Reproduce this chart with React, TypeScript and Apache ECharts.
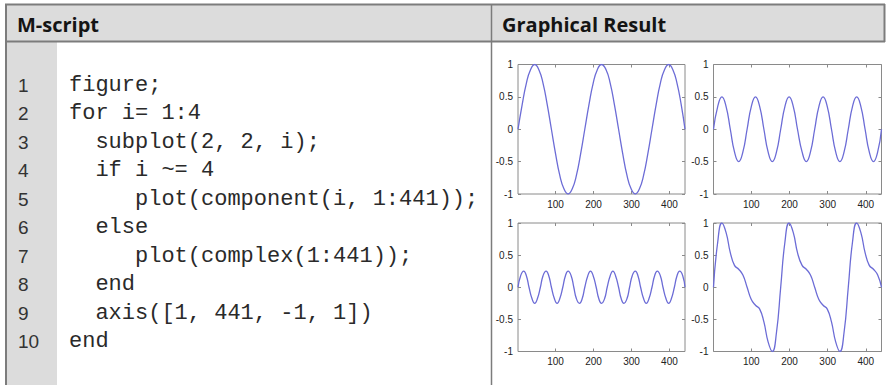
import React, { useEffect, useRef } from "react";
import * as echarts from "echarts";

// ---- texts ----
const leftTitle = "M-script";
const rightTitle = "Graphical Result";
const lineNumbers = ["1", "2", "3", "4", "5", "6", "7", "8", "9", "10"];
const codeLines = [
  "figure;",
  "for i= 1:4",
  "  subplot(2, 2, i);",
  "  if i ~= 4",
  "     plot(component(i, 1:441));",
  "  else",
  "     plot(complex(1:441));",
  "  end",
  "  axis([1, 441, -1, 1])",
  "end",
];

// ---- axes ----
const xRange = [1, 441];
const yRange = [-1, 1];
const xTickValues = [100, 200, 300, 400];
const yTickStep = 0.5;

// ---- data (sample index, value) ----
const samplesA = [1, 12, 23, 34, 45, 56, 67, 78, 89, 100, 111, 122, 133, 144, 155, 166, 177, 188, 199, 210, 221, 233, 244, 255, 266, 277, 288, 299, 310, 321, 332, 343, 354, 365, 376, 387, 398, 409, 420, 431, 441];
const component1 = [0, 0.38, 0.71, 0.92, 1, 0.92, 0.71, 0.38, 0, -0.38, -0.71, -0.92, -1, -0.92, -0.71, -0.38, 0, 0.38, 0.71, 0.92, 1, 0.92, 0.71, 0.38, 0, -0.38, -0.71, -0.92, -1, -0.92, -0.71, -0.38, 0, 0.38, 0.71, 0.92, 1, 0.92, 0.71, 0.38, 0];
const component2 = [0, 0.35, 0.5, 0.35, 0, -0.35, -0.5, -0.35, 0, 0.35, 0.5, 0.35, 0, -0.35, -0.5, -0.35, 0, 0.35, 0.5, 0.35, 0, -0.35, -0.5, -0.35, 0, 0.35, 0.5, 0.35, 0, -0.35, -0.5, -0.35, 0, 0.35, 0.5, 0.35, 0, -0.35, -0.5, -0.35, 0];
const samplesB = [1, 8, 16, 23, 30, 38, 45, 52, 60, 67, 75, 82, 89, 97, 104, 111, 119, 126, 133, 141, 148, 155, 163, 170, 177, 185, 192, 199, 207, 214, 221, 229, 236, 244, 251, 258, 266, 273, 280, 288, 295, 302, 310, 317, 324, 332, 339, 346, 354, 361, 368, 376, 383, 391, 398, 405, 413, 420, 427, 435, 441];
const component3 = [0, 0.18, 0.25, 0.18, 0, -0.18, -0.25, -0.18, 0, 0.18, 0.25, 0.18, 0, -0.18, -0.25, -0.18, 0, 0.18, 0.25, 0.18, 0, -0.18, -0.25, -0.18, 0, 0.18, 0.25, 0.18, 0, -0.18, -0.25, -0.18, 0, 0.18, 0.25, 0.18, 0, -0.18, -0.25, -0.18, 0, 0.18, 0.25, 0.18, 0, -0.18, -0.25, -0.18, 0, 0.18, 0.25, 0.18, 0, -0.18, -0.25, -0.18, 0, 0.18, 0.25, 0.18, 0];
const complexSignal = [0, 0.7, 1, 0.85, 0.54, 0.34, 0.28, 0.19, 0, -0.19, -0.28, -0.34, -0.54, -0.85, -1, -0.7, 0, 0.7, 1, 0.85, 0.54, 0.34, 0.28, 0.19, 0, -0.19, -0.28, -0.34, -0.54, -0.85, -1, -0.7, 0, 0.7, 1, 0.85, 0.54, 0.34, 0.28, 0.19, 0];

const W = 886;
const H = 385;

function pairs(xs: number[], ys: number[]) {
  return xs.map((x, i) => [x, ys[i]]);
}

export default function App() {
  const ref = useRef<HTMLDivElement>(null);

  useEffect(() => {
    document.body.style.margin = "0";
    const chart = echarts.init(ref.current!, null, { renderer: "svg", width: W, height: H });

    const grids = [
      { left: 518, top: 64.5, width: 167, height: 129.5 },
      { left: 713.5, top: 64.5, width: 168, height: 129.5 },
      { left: 518, top: 223, width: 167, height: 128.5 },
      { left: 713.5, top: 223, width: 168, height: 128.5 },
    ];
    const seriesData = [
      pairs(samplesA, component1),
      pairs(samplesA, component2),
      pairs(samplesB, component3),
      pairs(samplesA, complexSignal),
    ];

    const boxColor = "#8a8a8a";
    const labelStyle = { fontSize: 10, color: "#222", fontFamily: "Liberation Sans" };
    const xAxes: any[] = [];
    const yAxes: any[] = [];
    grids.forEach((_, gi) => {
      ["bottom", "top"].forEach((pos) => {
        xAxes.push({
          gridIndex: gi,
          type: "value",
          position: pos,
          min: xRange[0],
          max: xRange[1],
          axisLine: { show: false, onZero: false },
          axisTick: { show: true, inside: true, length: 3, lineStyle: { color: boxColor }, customValues: xTickValues },
          axisLabel: { show: pos === "bottom", margin: 5, customValues: xTickValues, ...labelStyle },
          splitLine: { show: false },
        });
      });
      ["left", "right"].forEach((pos) => {
        yAxes.push({
          gridIndex: gi,
          type: "value",
          position: pos,
          min: yRange[0],
          max: yRange[1],
          interval: yTickStep,
          axisLine: { show: false, onZero: false },
          axisTick: { show: true, inside: true, length: 3, lineStyle: { color: boxColor } },
          axisLabel: { show: pos === "left", margin: 5, ...labelStyle },
          splitLine: { show: false },
        });
      });
    });

    const border = "#7c7c7c";
    const titleFont = "bold 20px 'Open Sans', sans-serif";
    const graphicEls: any[] = [
      { type: "rect", shape: { x: 6, y: 4, width: 878, height: 37 }, style: { fill: "#dcdcdc" }, z: -10 },
      { type: "rect", shape: { x: 7, y: 42, width: 50, height: 343 }, style: { fill: "#dcdcdc" }, z: -10 },
      { type: "line", shape: { x1: 5, y1: 4.5, x2: 885, y2: 4.5 }, style: { stroke: border, lineWidth: 2 }, z: -5 },
      { type: "line", shape: { x1: 5, y1: 41.5, x2: 885, y2: 41.5 }, style: { stroke: border, lineWidth: 2 }, z: -5 },
      { type: "line", shape: { x1: 6, y1: 4, x2: 6, y2: 385 }, style: { stroke: border, lineWidth: 2 }, z: -5 },
      { type: "line", shape: { x1: 884.5, y1: 4, x2: 884.5, y2: 42 }, style: { stroke: border, lineWidth: 2 }, z: -5 },
      { type: "line", shape: { x1: 491.5, y1: 4, x2: 491.5, y2: 385 }, style: { stroke: border, lineWidth: 1.5 }, z: -5 },
      {
        type: "text",
        style: { text: leftTitle, x: 17, y: 24, verticalAlign: "middle", font: titleFont, fill: "#141414" },
      },
      {
        type: "text",
        style: { text: rightTitle, x: 502, y: 24, verticalAlign: "middle", font: titleFont, fill: "#141414" },
      },
    ];
    const codeTop = 85;
    const codeStep = 28.55;
    const charW = 13.2;
    lineNumbers.forEach((n, i) => {
      graphicEls.push({
        type: "text",
        style: { text: n, x: 18, y: codeTop + i * codeStep, verticalAlign: "middle", font: "19px 'Liberation Sans', sans-serif", fill: "#333" },
      });
    });
    codeLines.forEach((line, i) => {
      const indent = line.length - line.trimStart().length;
      graphicEls.push({
        type: "text",
        style: {
          text: line.trimStart(),
          x: 69 + indent * charW,
          y: codeTop + i * codeStep,
          verticalAlign: "middle",
          font: "22px 'Liberation Mono', monospace",
          fill: "#2a2a2a",
        },
      });
    });

    chart.setOption({
      animation: false,
      backgroundColor: "#ffffff",
      graphic: { elements: graphicEls },
      grid: grids.map((g) => ({ ...g, show: true, borderColor: boxColor, borderWidth: 1, backgroundColor: "transparent" })),
      xAxis: xAxes,
      yAxis: yAxes,
      series: seriesData.map((d, i) => ({
        type: "line",
        xAxisIndex: i * 2,
        yAxisIndex: i * 2,
        data: d,
        showSymbol: false,
        smooth: true,
        clip: true,
        silent: true,
        lineStyle: { color: "#6c6cd6", width: 1.3 },
      })),
    });

    return () => chart.dispose();
  }, []);

  return <div ref={ref} style={{ width: W, height: H }} />;
}
